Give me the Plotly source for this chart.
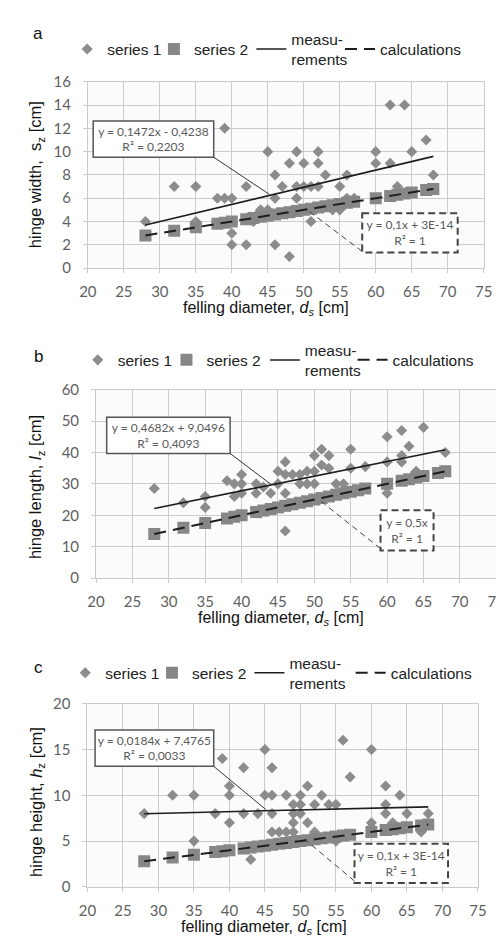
import plotly.graph_objects as go

W, H = 504, 936

# ---------------- data ----------------
# series 1 (measurements) per panel
a_x = [28, 32, 35, 35, 38, 39, 39, 40, 40, 40, 42, 42, 43, 44, 45, 45, 46, 46, 46, 47, 48, 48,
       49, 49, 49, 50, 50, 51, 51, 52, 52, 52, 53, 54, 55, 55, 56, 56, 57, 60, 60, 62, 62, 63,
       64, 65, 67, 68]
a_y = [4, 7, 7, 4, 6, 6, 12, 6, 3, 2, 7, 2, 4, 5, 10, 5, 8, 6, 2, 7, 9, 1,
       10, 7, 6, 9, 7, 7, 4, 10, 9, 7, 8, 5, 7, 5, 8, 6, 6, 10, 9, 9, 14, 7,
       14, 10, 11, 8]

b_x = [28, 32, 35, 35, 38, 39, 39, 40, 40, 40, 42, 42, 43, 44, 45, 45, 46, 46, 46, 46, 47, 48,
       48, 49, 49, 50, 50, 50, 51, 51, 52, 52, 53, 54, 55, 55, 57, 60, 60, 60, 60, 62, 62, 62,
       63, 64, 65, 68]
b_y = [28.5, 24, 26, 22.5, 31, 30, 26, 33, 30, 27, 30, 27, 29, 27, 34, 30, 37, 33, 27, 15, 33, 33,
       30, 34, 30, 39, 34, 30, 41, 36, 39, 35, 30, 30, 41, 35, 35.5, 45, 37, 29, 27, 47, 39, 37,
       42, 34, 48, 40]

c_x = [28, 32, 35, 35, 38, 39, 40, 40, 40, 42, 42, 43, 44, 45, 45, 46, 46, 46, 46, 47, 48, 48,
       49, 49, 49, 49, 50, 50, 50, 51, 51, 52, 52, 53, 54, 55, 55, 56, 57, 60, 60, 60, 62, 62,
       62, 63, 64, 65, 67, 68]
c_y = [8, 10, 10, 5, 8, 14, 11, 10, 7, 13, 8, 3, 8, 15, 10, 13, 10, 8, 6, 6, 10, 6,
       9, 8, 7, 6, 10, 9, 8, 11, 7, 9, 6, 10, 9, 9, 5, 16, 12, 15, 7, 6.5, 11, 9,
       8, 7, 10, 8, 6, 8]

# series 2 (calculations)
d_calc = [28, 32, 35, 38, 39, 40, 42, 43, 44, 45, 46, 47, 48, 49, 50, 51, 52, 53, 54, 55,
          56, 57, 60, 62, 63, 64, 65, 67, 68]
a_calc = [2.8, 3.2, 3.5, 3.8, 3.9, 4.0, 4.2, 4.3, 4.4, 4.5, 4.6, 4.7, 4.8, 4.9, 5.0, 5.1, 5.2,
          5.3, 5.4, 5.5, 5.6, 5.7, 6.0, 6.2, 6.3, 6.4, 6.5, 6.7, 6.8]
b_calc = [14, 16, 17.5, 19, 19.5, 20, 21, 21.5, 22, 22.5, 23, 23.5, 24, 24.5, 25, 25.5, 26,
          26.5, 27, 27.5, 28, 28.5, 30, 31, 31.5, 32, 32.5, 33.5, 34]
c_calc = [2.8, 3.2, 3.5, 3.8, 3.9, 4.0, 4.2, 4.3, 4.4, 4.5, 4.6, 4.7, 4.8, 4.9, 5.0, 5.1, 5.2,
          5.3, 5.4, 5.5, 5.6, 5.7, 6.0, 6.2, 6.3, 6.4, 6.5, 6.7, 6.8]

# trend lines (end points)
trend_x = [28, 68]
a_meas_trend = [3.70, 9.59]
b_meas_trend = [22.16, 40.89]
c_meas_trend = [7.99, 8.73]
a_calc_trend = [2.8, 6.8]
b_calc_trend = [14, 34]
c_calc_trend = [2.8, 6.8]

x_ticks = [20, 25, 30, 35, 40, 45, 50, 55, 60, 65, 70, 75]
legend_names = ["series 1", "series 2", "measu-<br>rements", "calculations"]
eq_meas = ["y = 0,1472x - 0,4238<br>R² = 0,2203",
           "y = 0,4682x + 9,0496<br>R² = 0,4093",
           "y = 0,0184x + 7,4765<br>R² = 0,0033"]
eq_calc = ["y = 0,1x + 3E-14<br>R² = 1",
           "y = 0,5x<br>R² = 1",
           "y = 0,1x + 3E-14<br>R² = 1"]
y_titles = ["hinge width,  s<sub>z</sub> [cm]",
            "hinge length, <i>l</i><sub>z</sub> [cm]",
            "hinge height, <i>h</i><sub>z</sub> [cm]"]
x_title = "felling diameter, <i>d</i><sub><i>s</i></sub> [cm]"
panel_labels = ["a", "b", "c"]

# ---------------- layout helpers ----------------
def fx(p):
    return p / W

def fy(p):
    return 1 - p / H

TEXT = "Liberation Sans, Arial, sans-serif"
TICKF = "Lato, Liberation Sans, sans-serif"
GRID = "#cbcbcb"
MK1 = "#8c8c8c"
MK2 = "#878787"

panels = [
    dict(xd=(73.5, 484), yd=(255, 65), yr=[0, 16], dt=2, x1=a_x, y1=a_y, c=a_calc,
         mt=a_meas_trend, ct=a_calc_trend, legy=32, legx=(52, 142, 243, 335), lab=(22, 16),
         yt=(20, 160), xt=(258, 296),
         box1=(79, 105, 204, 142), con1=(204, 142, 262, 180),
         box2=(358, 199, 457, 239), con2=(358, 238, 300, 195)),
    dict(xd=(82, 497), yd=(571, 379), yr=[0, 60], dt=10, x1=b_x, y1=b_y, c=b_calc,
         mt=b_meas_trend, ct=b_calc_trend, legy=349, legx=(63, 155, 257, 348), lab=(22, 345),
         yt=(20, 478), xt=(274, 612),
         box1=(93, 407, 221, 444), con1=(221, 444, 264, 476),
         box2=(377, 502, 432, 543), con2=(377, 541, 313, 491)),
    dict(xd=(73, 478), yd=(886, 699), yr=[0, 20], dt=5, x1=c_x, y1=c_y, c=c_calc,
         mt=c_meas_trend, ct=c_calc_trend, legy=668, legx=(50, 140, 241, 346), lab=(22, 662),
         yt=(20, 799), xt=(256, 927),
         box1=(81, 726, 204, 763), con1=(204, 763, 258, 807),
         box2=(350, 842, 447, 882), con2=(350, 880, 298, 837)),
]

fig = go.Figure()
shapes = []
annotations = []
layout = {}

for i, p in enumerate(panels):
    n = "" if i == 0 else str(i + 1)
    xa, ya = "x" + n, "y" + n
    lgs = []
    for k in range(4):
        idx = i * 4 + k + 1
        lgs.append("legend" if idx == 1 else "legend" + str(idx))
    # series 1
    fig.add_trace(go.Scatter(x=p["x1"], y=p["y1"], mode="markers", name=legend_names[0],
                             marker=dict(symbol="diamond", size=8.5, color=MK1),
                             xaxis=xa, yaxis=ya, legend=lgs[0], showlegend=True))
    # series 2
    fig.add_trace(go.Scatter(x=d_calc, y=p["c"], mode="markers", name=legend_names[1],
                             marker=dict(symbol="square", size=12, color=MK2),
                             xaxis=xa, yaxis=ya, legend=lgs[1], showlegend=True))
    # measurements trend
    fig.add_trace(go.Scatter(x=trend_x, y=p["mt"], mode="lines", name=legend_names[2],
                             line=dict(color="#1e1e1e", width=1.6),
                             xaxis=xa, yaxis=ya, legend=lgs[2], showlegend=True))
    # calculations trend
    fig.add_trace(go.Scatter(x=trend_x, y=p["ct"], mode="lines", name=legend_names[3],
                             line=dict(color="#1e1e1e", width=2, dash="12px,7px"),
                             xaxis=xa, yaxis=ya, legend=lgs[3], showlegend=True))

    layout["xaxis" + n] = dict(
        domain=[fx(p["xd"][0]), fx(p["xd"][1])], range=[20, 75], tickvals=x_ticks,
        showgrid=True, gridcolor=GRID, gridwidth=1, zeroline=False,
        showline=True, linecolor=GRID, mirror=True,
        ticks="outside", ticklen=4, tickcolor=GRID, ticklabelstandoff=6,
        tickfont=dict(family=TICKF, size=15, color="#5f5f5f"),
        anchor=ya, fixedrange=True)
    layout["yaxis" + n] = dict(
        domain=[fy(p["yd"][0]), fy(p["yd"][1])], range=p["yr"], dtick=p["dt"],
        showgrid=True, gridcolor=GRID, gridwidth=1, zeroline=False,
        showline=True, linecolor=GRID, mirror=True,
        ticks="outside", ticklen=4, tickcolor=GRID, ticklabelstandoff=9,
        tickfont=dict(family=TICKF, size=15, color="#5f5f5f"),
        anchor=xa, fixedrange=True)
    for k in range(4):
        layout[lgs[k]] = dict(
            x=fx(p["legx"][k]), y=fy(p["legy"]), xanchor="left", yanchor="middle",
            orientation="h", valign="middle", bgcolor="rgba(0,0,0,0)", borderwidth=0,
            font=dict(family=TEXT, size=15.5, color="#222"))

    # equation boxes
    b1 = p["box1"]
    shapes.append(dict(type="rect", xref="paper", yref="paper",
                       x0=fx(b1[0]), x1=fx(b1[2]), y0=fy(b1[1]), y1=fy(b1[3]),
                       line=dict(color="#555", width=1.5), fillcolor="white", layer="above",
                       label=dict(text=eq_meas[i], textposition="middle center",
                                  font=dict(family=TICKF, size=12, color="#5a5a5a"))))
    c1 = p["con1"]
    shapes.append(dict(type="line", xref="paper", yref="paper",
                       x0=fx(c1[0]), y0=fy(c1[1]), x1=fx(c1[2]), y1=fy(c1[3]),
                       line=dict(color="#333", width=1)))
    b2 = p["box2"]
    shapes.append(dict(type="rect", xref="paper", yref="paper",
                       x0=fx(b2[0]), x1=fx(b2[2]), y0=fy(b2[1]), y1=fy(b2[3]),
                       line=dict(color="#444", width=2, dash="7px,4px"), fillcolor="white",
                       layer="above",
                       label=dict(text=eq_calc[i], textposition="middle center",
                                  font=dict(family=TICKF, size=12, color="#5a5a5a"))))
    c2 = p["con2"]
    shapes.append(dict(type="line", xref="paper", yref="paper",
                       x0=fx(c2[0]), y0=fy(c2[1]), x1=fx(c2[2]), y1=fy(c2[3]),
                       line=dict(color="#444", width=1, dash="6px,4px")))

    # texts
    annotations.append(dict(text=panel_labels[i], x=fx(p["lab"][0]), y=fy(p["lab"][1]),
                            xref="paper", yref="paper", showarrow=False,
                            xanchor="center", yanchor="middle",
                            font=dict(family=TEXT, size=17, color="#111")))
    annotations.append(dict(text=y_titles[i], x=fx(p["yt"][0]), y=fy(p["yt"][1]),
                            xref="paper", yref="paper", showarrow=False, textangle=-90,
                            xanchor="center", yanchor="middle",
                            font=dict(family=TEXT, size=16.5, color="#111")))
    annotations.append(dict(text=x_title, x=fx(p["xt"][0]), y=fy(p["xt"][1]),
                            xref="paper", yref="paper", showarrow=False,
                            xanchor="center", yanchor="middle",
                            font=dict(family=TEXT, size=16, color="#111")))

fig.update_layout(
    width=W, height=H, margin=dict(l=0, r=0, t=0, b=0), showlegend=True,
    paper_bgcolor="white", plot_bgcolor="#fbfbfb",
    shapes=shapes, annotations=annotations, **layout)

fig.write_html("out.html")
